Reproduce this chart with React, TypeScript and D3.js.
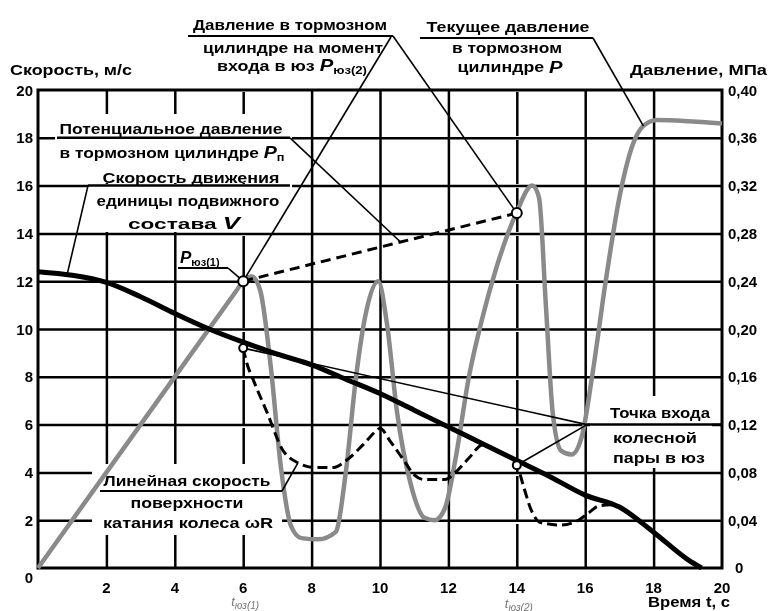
import React, { useEffect, useRef } from "react";
import * as d3 from "d3";

// speed of the vehicle V, m/s
const timeV = [0, 1, 2, 3, 4, 5, 6, 7, 8, 9, 10, 11, 12, 13, 14, 15, 16, 17, 18, 19, 19.4];
const speedV = [12.4, 12.25, 11.95, 11.35, 10.65, 10.0, 9.45, 8.95, 8.5, 7.9, 7.3, 6.6, 5.9, 5.2, 4.5, 3.8, 3.05, 2.55, 1.5, 0.35, 0];

// current brake cylinder pressure P, MPa
const timeP = [0, 3, 5.8, 6.0, 6.25, 6.5, 6.8, 7.1, 7.4, 7.7, 8.2, 8.7, 9.0, 9.3, 9.6, 9.95, 10.2, 10.5, 10.9, 11.3, 11.6, 11.9, 12.2, 12.6, 13.0, 13.5, 14.0, 14.45, 14.65, 14.85, 15.05, 15.3, 15.6, 15.9, 16.2, 16.6, 17.0, 17.4, 17.7, 18.1, 20];
const pressureP = [0, 0.12, 0.232, 0.24, 0.244, 0.232, 0.17, 0.085, 0.035, 0.025, 0.024, 0.03, 0.08, 0.16, 0.215, 0.24, 0.205, 0.13, 0.07, 0.042, 0.04, 0.05, 0.09, 0.16, 0.21, 0.26, 0.298, 0.32, 0.31, 0.22, 0.13, 0.098, 0.095, 0.11, 0.16, 0.24, 0.31, 0.355, 0.37, 0.375, 0.372];

// potential pressure Pп between the two skid points
const timePn = [6, 14];
const pressurePn = [0.24, 0.297];

// wheel surface speed ωR, m/s
const timeW = [6.0, 6.1, 6.3, 6.7, 7.15, 7.6, 8.1, 8.6, 9.1, 9.5, 9.9, 10.0, 10.3, 10.7, 11.0, 11.3, 11.9, 12.2, 12.6, 13.0, 13.5, 14.0, 14.2, 14.4, 14.7, 15.3, 15.8, 16.1, 16.4, 16.8];
const omegaR = [9.2, 8.6, 7.85, 6.5, 4.95, 4.4, 4.2, 4.2, 4.6, 5.15, 5.75, 5.85, 5.3, 4.5, 3.9, 3.7, 3.7, 4.0, 4.6, 5.15, 4.85, 4.3, 3.4, 2.5, 1.9, 1.8, 2.0, 2.3, 2.6, 2.65];

const xTicks = [2, 4, 6, 8, 10, 12, 14, 16, 18, 20];
const leftTicks = [2, 4, 6, 8, 10, 12, 14, 16, 18, 20];
const rightTicks = [0.04, 0.08, 0.12, 0.16, 0.2, 0.24, 0.28, 0.32, 0.36, 0.4];
const skidTimes = [6, 14];

const W = 772;
const H = 611;
const FONT = "'Liberation Sans', Arial, sans-serif";

// areas kept free of grid behind the annotation texts
const textBoxes = [
  { x: 55, y: 114, w: 237, h: 69 },
  { x: 88, y: 184, w: 204, h: 48 },
  { x: 92, y: 464, w: 190, h: 71 },
  { x: 590, y: 396, w: 122, h: 72 },
];

type Pt = [number, number];

const x = d3.scaleLinear().domain([0, 20]).range([38, 722]);
const yL = d3.scaleLinear().domain([0, 20]).range([568, 90]);
const yR = d3.scaleLinear().domain([0, 0.4]).range([568, 90]);

const TextLine: React.FC<{ x: number; y: number; w?: number; anchor?: string; size?: number; children: React.ReactNode }> = ({ x, y, w, anchor = "middle", size = 15, children }) => (
  <text
    x={x}
    y={y}
    textAnchor={anchor as any}
    dominantBaseline="central"
    fontSize={size}
    fontWeight="bold"
    textLength={w}
    lengthAdjust={w ? "spacingAndGlyphs" : undefined}
  >
    {children}
  </text>
);

const App: React.FC = () => {
  const gridRef = useRef<SVGGElement>(null);

  useEffect(() => {
    if (!gridRef.current) return;
    const g = d3.select(gridRef.current);
    g.selectAll("*").remove();

    // horizontal grid from the left axis
    g.append("g")
      .attr("transform", `translate(${x(0)},0)`)
      .call(
        d3.axisLeft(yL)
          .tickValues(leftTicks.slice(0, -1))
          .tickSize(-(x(20) - x(0)))
          .tickFormat(() => "")
      )
      .call(s => s.select(".domain").remove())
      .selectAll("line")
      .attr("stroke", "#000")
      .attr("stroke-width", 2.5);

    // vertical grid from the time axis
    g.append("g")
      .attr("transform", `translate(0,${yL(0)})`)
      .call(
        d3.axisBottom(x)
          .tickValues(xTicks.slice(0, -1))
          .tickSize(-(yL(0) - yL(20)))
          .tickFormat(() => "")
      )
      .call(s => s.select(".domain").remove())
      .selectAll<SVGLineElement, number>("line")
      .attr("stroke", "#000")
      .attr("stroke-width", 2.5)
      .attr("stroke-dasharray", d => (skidTimes.includes(d) ? "44 4" : null));
  }, []);

  const vPts: Pt[] = timeV.map((t, i) => [x(t), yL(speedV[i])]);
  const pPts: Pt[] = timeP.map((t, i) => [x(t), yR(pressureP[i])]);
  const pnPts: Pt[] = timePn.map((t, i) => [x(t), yR(pressurePn[i])]);
  const wPts: Pt[] = timeW.map((t, i) => [x(t), yL(omegaR[i])]);

  const smooth = d3.line<Pt>().x(d => d[0]).y(d => d[1]).curve(d3.curveMonotoneX);
  const straight = d3.line<Pt>().x(d => d[0]).y(d => d[1]);

  const skid1 = pnPts[0];
  const skid2 = pnPts[1];
  const wheel1: Pt = wPts[0];
  const wheel2: Pt = [x(14), yL(4.3)];

  const fmtR = (v: number) => d3.format(".2f")(v).replace(".", ",");

  const thin = { stroke: "#000", strokeWidth: 1.6, fill: "none" };
  const under = { stroke: "#000", strokeWidth: 2, fill: "none" };

  return (
    <svg width={W} height={H} style={{ position: "absolute", left: 0, top: 0, background: "#fff" }} fontFamily={FONT}>
      <defs>
        <mask id="gridMask" maskUnits="userSpaceOnUse" x={0} y={0} width={W} height={H}>
          <rect x={0} y={0} width={W} height={H} fill="#fff" />
          {textBoxes.map((b, i) => (
            <rect key={i} x={b.x} y={b.y} width={b.w} height={b.h} fill="#000" />
          ))}
        </mask>
      </defs>

      {/* grid, drawn by d3 axes */}
      <g ref={gridRef} mask="url(#gridMask)" />

      {/* underlines */}
      <g {...under}>
        <line x1={188} x2={393} y1={36} y2={36} />
        <line x1={420} x2={593} y1={38} y2={38} />
        <line x1={57} x2={290} y1={yL(18)} y2={yL(18)} strokeWidth={2.5} />
        <line x1={88} x2={290} y1={yL(16)} y2={yL(16)} strokeWidth={2.5} />
        <line x1={178} x2={228} y1={268} y2={268} />
        <line x1={100} x2={282} y1={491} y2={491} />
        <line x1={587} x2={722} y1={yL(6)} y2={yL(6)} strokeWidth={2.5} />
      </g>

      {/* border */}
      <rect x={x(0)} y={yL(20)} width={x(20) - x(0)} height={yL(0) - yL(20)} fill="none" stroke="#000" strokeWidth={3} />

      {/* curves */}
      <path d={smooth(pPts) || ""} fill="none" stroke="#8a8a8a" strokeWidth={4.5} strokeLinejoin="round" />
      <path d={smooth(wPts) || ""} fill="none" stroke="#000" strokeWidth={3} strokeDasharray="10,5" />
      <path d={smooth(vPts) || ""} fill="none" stroke="#000" strokeWidth={5} />
      <path d={straight(pnPts) || ""} fill="none" stroke="#000" strokeWidth={3} strokeDasharray="10,6" />

      {/* leaders */}
      <g {...thin}>
        <line x1={391} y1={37} x2={skid1[0]} y2={skid1[1]} />
        <line x1={393} y1={36} x2={skid2[0]} y2={skid2[1]} />
        <line x1={593} y1={38} x2={x(17.7)} y2={yR(0.37)} />
        <line x1={290} y1={yL(18)} x2={x(10.6)} y2={yR(0.24 + (0.057 * 4.6) / 8)} />
        <line x1={88} y1={yL(16)} x2={x(0.85)} y2={yL(12.27)} />
        <line x1={228} y1={268} x2={skid1[0]} y2={skid1[1]} />
        <line x1={282} y1={491} x2={x(7.6)} y2={yL(4.4)} />
        <line x1={587} y1={yL(6)} x2={wheel1[0]} y2={wheel1[1]} />
        <line x1={587} y1={yL(6)} x2={wheel2[0]} y2={wheel2[1]} />
      </g>

      {/* markers */}
      <g fill="#fff" stroke="#000" strokeWidth={2}>
        <circle cx={skid1[0]} cy={skid1[1]} r={5} />
        <circle cx={skid2[0]} cy={skid2[1]} r={5} />
        <circle cx={wheel1[0]} cy={wheel1[1]} r={4} />
        <circle cx={wheel2[0]} cy={wheel2[1]} r={4} />
      </g>

      {/* axis labels */}
      <g fontWeight="bold" fontSize={15}>
        {leftTicks.map(v => (
          <text key={"l" + v} x={33} y={yL(v)} textAnchor="end" dominantBaseline="central">{v}</text>
        ))}
        <text x={33} y={577} textAnchor="end" dominantBaseline="central">0</text>
        {rightTicks.map(v => (
          <text key={"r" + v} x={728} y={yR(v)} dominantBaseline="central">{fmtR(v)}</text>
        ))}
        <text x={735} y={567} dominantBaseline="central">0</text>
        {xTicks.map(t => (
          <text key={"x" + t} x={x(t)} y={587} textAnchor="middle" dominantBaseline="central">{t}</text>
        ))}
      </g>

      <TextLine x={10} y={70} w={122} anchor="start" size={14}>Скорость, м/с</TextLine>
      <TextLine x={630} y={70} w={137} anchor="start" size={14}>Давление, МПа</TextLine>
      <TextLine x={648} y={602} w={82} anchor="start" size={14}>Время t, с</TextLine>

      <g fill="#777" fontStyle="italic" fontSize={13}>
        <text x={x(6) - 12} y={601} dominantBaseline="central">t<tspan fontSize={10} dy={4}>юз(1)</tspan></text>
        <text x={x(14) - 12} y={603} dominantBaseline="central">t<tspan fontSize={10} dy={4}>юз(2)</tspan></text>
      </g>

      {/* annotation texts */}
      <TextLine x={290} y={24} w={194}>Давление в тормозном</TextLine>
      <TextLine x={293} y={47} w={180}>цилиндре на момент</TextLine>
      <text x={292} y={65} textAnchor="middle" dominantBaseline="central" fontSize={15} fontWeight="bold" textLength={150} lengthAdjust="spacingAndGlyphs">
        входа в юз <tspan fontStyle="italic" fontSize={17}>P</tspan><tspan fontSize={11} dy={5}>юз(2)</tspan>
      </text>

      <TextLine x={508} y={26} w={163}>Текущее давление</TextLine>
      <TextLine x={507} y={48} w={110} size={14}>в тормозном</TextLine>
      <text x={510} y={67} textAnchor="middle" dominantBaseline="central" fontSize={14} fontWeight="bold" textLength={105} lengthAdjust="spacingAndGlyphs">
        цилиндре <tspan fontStyle="italic" fontSize={16}>P</tspan>
      </text>

      <TextLine x={171} y={128} w={223}>Потенциальное давление</TextLine>
      <text x={172} y={152} textAnchor="middle" dominantBaseline="central" fontSize={15} fontWeight="bold" textLength={225} lengthAdjust="spacingAndGlyphs">
        в тормозном цилиндре <tspan fontStyle="italic" fontSize={17}>P</tspan><tspan fontSize={11} dy={5}>п</tspan>
      </text>

      <TextLine x={191} y={177} w={177}>Скорость движения</TextLine>
      <TextLine x={188} y={200} w={183}>единицы подвижного</TextLine>
      <text x={184} y={223} textAnchor="middle" dominantBaseline="central" fontSize={15} fontWeight="bold" textLength={112} lengthAdjust="spacingAndGlyphs">
        состава <tspan fontStyle="italic" fontSize={17}>V</tspan>
      </text>

      <text x={180} y={257} dominantBaseline="central" fontSize={17} fontWeight="bold" fontStyle="italic">
        P<tspan fontSize={11} fontStyle="normal" dy={5}>юз(1)</tspan>
      </text>

      <TextLine x={187} y={480} w={167}>Линейная скорость</TextLine>
      <TextLine x={187} y={502} w={113}>поверхности</TextLine>
      <TextLine x={188} y={522} w={170}>катания колеса ωR</TextLine>

      <TextLine x={660} y={412} w={100}>Точка входа</TextLine>
      <TextLine x={655} y={437} w={84}>колесной</TextLine>
      <TextLine x={659} y={457} w={92}>пары в юз</TextLine>
    </svg>
  );
};

export default App;
